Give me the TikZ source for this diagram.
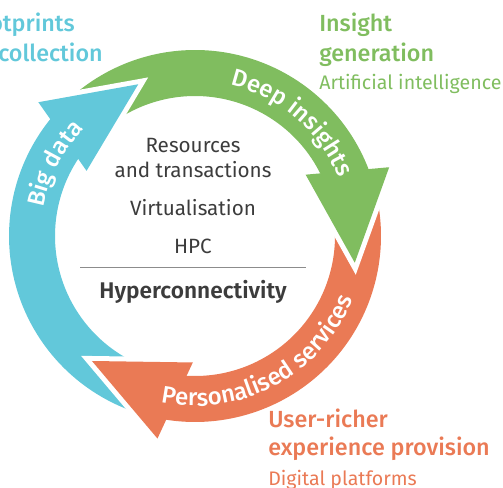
\documentclass[tikz,border=0pt]{standalone}
\usepackage{fontspec}
\setmainfont{Fira Sans}
\IfFontExistsTF{Fira Sans Medium}{\newfontfamily\medfont{Fira Sans Medium}}{\newfontfamily\medfont{Fira Sans}[FakeBold=1.2]}
\IfFontExistsTF{Fira Sans SemiBold}{\newfontfamily\semifont{Fira Sans SemiBold}}{\newfontfamily\semifont{Fira Sans}[FakeBold=2]}
\usetikzlibrary{decorations.text}
\definecolor{cblue}{HTML}{62C8DA}
\definecolor{cgreen}{HTML}{80BD5F}
\definecolor{corange}{HTML}{EA7A55}
\definecolor{ctext}{HTML}{3C3C3C}
\definecolor{cline}{HTML}{8C8C8C}
\newcommand\myband[5]{%
  \fill[#1] ([shift={(#2:186)}]C) arc[start angle=#2, end angle=#3, radius=186]
    -- ([shift={(#4:140)}]C) arc[start angle=#4, end angle=#5, radius=140] -- cycle;}
\newcommand\myhead[2]{%
  \draw[white, line width=7.5pt] ([shift={(#2+29:206)}]C) -- ([shift={(#2:162)}]C) -- ([shift={(#2+38.5:126.5)}]C);
  \fill[#1] ([shift={(#2+29:206)}]C) -- ([shift={(#2:162)}]C) -- ([shift={(#2+38.5:126.5)}]C) -- cycle;}
\tikzset{
  midtext/.style={inner sep=0pt, text=ctext, font=\fontsize{15.5}{15.5}\selectfont, anchor=base},
  titletext/.style={inner sep=0pt, anchor=base west, font=\medfont\fontsize{17.5}{17.5}\selectfont},
  subtext/.style={inner sep=0pt, anchor=base west, font=\fontsize{14.7}{14.7}\selectfont},
  arctext/.style={decorate, decoration={text along path, text color=white, text align=center, text={|\medfont\fontsize{18}{18}\selectfont|#1}}}
}
\begin{document}
\begin{tikzpicture}[x=0.75pt,y=0.75pt]
\useasboundingbox (0,0) rectangle (503,-488);
\clip (0,0) rectangle (503,-488);
\coordinate (C) at (195,-236);
% bands
\myband{cblue}{255.5}{140.5}{146}{255.5}
\myband{cgreen}{135.5}{20.5}{26}{135.5}
\myband{corange}{15.5}{-99.5}{-94}{15.5}
% heads
\myhead{cblue}{110.5}
\myhead{cgreen}{-9.5}
\myhead{corange}{-129.5}
% arc texts
\path[arctext={Big data}] ([shift={(192.75:154)}]C) arc[start angle=192.75, end angle=112.75, radius=154];
\path[arctext={Deep insights}] ([shift={(89.5:155)}]C) arc[start angle=89.5, end angle=9.5, radius=155];
\path[arctext={Personalised services}] ([shift={(-131.7:170)}]C) arc[start angle=-131.7, end angle=8.3, radius=170];
% centre texts
\node[midtext] (res) at (193,-153) {Resources};
\node[midtext] (trans) at (193,-178) {and transactions};
\node[midtext] (virt) at (193,-216) {Virtualisation};
\node[midtext] (hpc) at (193,-253) {HPC};
\coordinate (l1) at (80,-267.5);
\coordinate (l2) at (306,-267.5);
\draw[cline, line width=0.9pt] (l1) -- (l2);
\node[midtext, font=\semifont\fontsize{17}{17}\selectfont] (hyp) at (193,-298) {Hyperconnectivity};
% outer texts
\node[titletext, text=cblue, anchor=base east] (fp) at (75,-32) {Footprints};
\node[titletext, text=cblue] (coll) at (-2,-62) {collection};
\node[titletext, text=cgreen] (ins) at (319,-32) {Insight};
\node[titletext, text=cgreen] (gen) at (319,-62) {generation};
\node[subtext, text=cgreen] (ai) at (319,-90) {Artificial intelligence};
\node[titletext, text=corange] (usr) at (268,-427) {User-richer};
\node[titletext, text=corange] (exp) at (268,-455) {experience provision};
\node[subtext, text=corange] (dig) at (268,-485) {Digital platforms};
\end{tikzpicture}
\end{document}
